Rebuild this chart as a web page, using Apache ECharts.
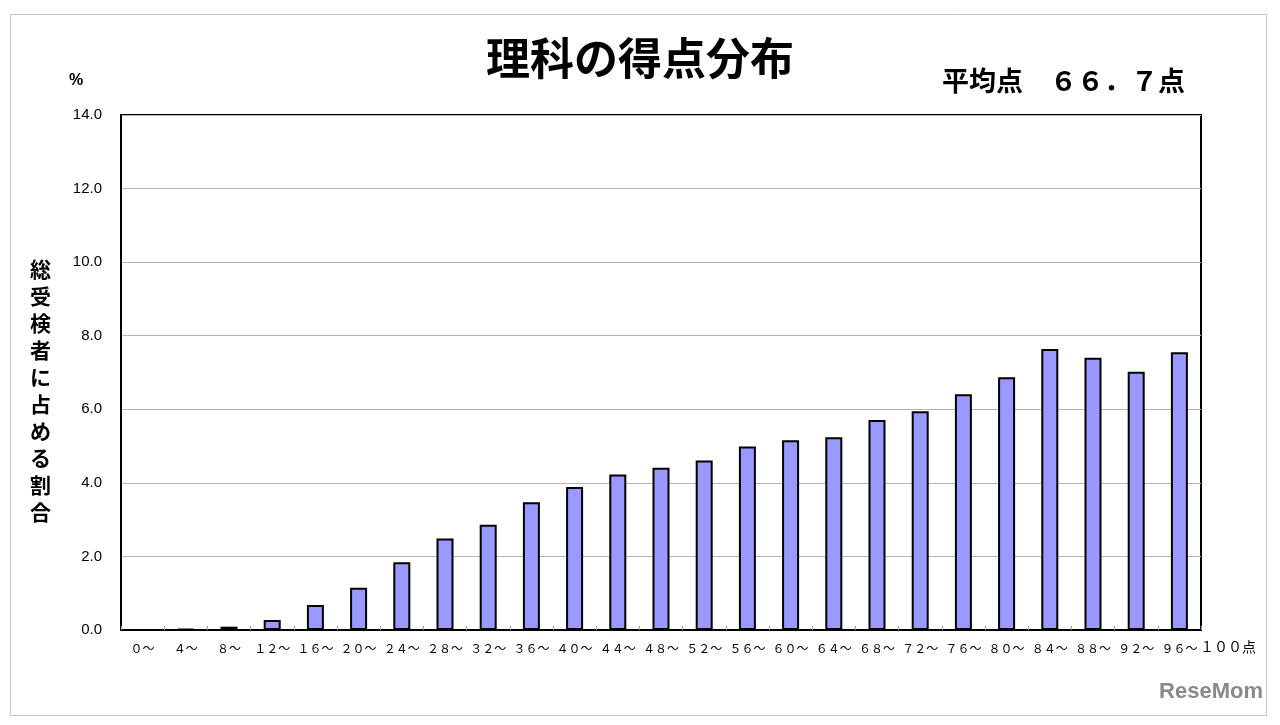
<!DOCTYPE html>
<html>
<head>
<meta charset="utf-8">
<script src="https://cdn.jsdelivr.net/npm/echarts@6/dist/echarts.min.js"></script>
<style>
  html, body { margin: 0; padding: 0; background: #fff; }
  #chart { width: 1280px; height: 725px; }
</style>
</head>
<body>
<div id="chart"></div>
<script>
// 得点区分（4点刻み）
const categories = ['０～', '４～', '８～', '１２～', '１６～', '２０～', '２４～', '２８～', '３２～', '３６～',
  '４０～', '４４～', '４８～', '５２～', '５６～', '６０～', '６４～', '６８～', '７２～', '７６～',
  '８０～', '８４～', '８８～', '９２～', '９６～'];

// 総受検者に占める割合（%）
const shares = [0.0, 0.03, 0.09, 0.27, 0.68, 1.15, 1.84, 2.49, 2.86, 3.47,
  3.89, 4.23, 4.41, 4.61, 4.99, 5.16, 5.24, 5.71, 5.95, 6.41,
  6.87, 7.64, 7.40, 7.02, 7.55];

const yTicks = { min: 0, max: 14, interval: 2 };
const yAxisName = '総受検者に占める割合';

const jp = '"Noto Sans CJK JP", sans-serif';

const chart = echarts.init(document.getElementById('chart'), null, { renderer: 'canvas' });

chart.setOption({
  backgroundColor: '#fff',
  animation: false,
  grid: {
    left: 121, right: 79, top: 115, bottom: 95,
    show: true, borderColor: '#000', borderWidth: 2, backgroundColor: 'transparent'
  },
  xAxis: {
    type: 'category',
    data: categories,
    axisLine: { lineStyle: { color: '#000', width: 2 } },
    axisTick: { show: true, inside: true, length: 4, lineStyle: { color: '#999' } },
    axisLabel: { color: '#000', fontFamily: jp, fontSize: 12, margin: 12, interval: 0 }
  },
  yAxis: {
    type: 'value',
    min: yTicks.min, max: yTicks.max, interval: yTicks.interval,
    axisLine: { show: true, lineStyle: { color: '#000', width: 2 } },
    axisTick: { show: false },
    splitLine: { lineStyle: { color: '#b4b4b4', width: 1 } },
    axisLabel: {
      color: '#000', fontFamily: '"Liberation Sans", Arial, sans-serif', fontSize: 15, margin: 19,
      formatter: v => v.toFixed(1)
    }
  },
  series: [{
    type: 'bar',
    data: shares,
    barWidth: 17,
    itemStyle: { color: '#9999ff', borderColor: '#000', borderWidth: 2 }
  }],
  graphic: [
    { type: 'rect', left: 8, top: 12, shape: { width: 1256, height: 701 },
      style: { fill: 'none', stroke: '#c4c4c4', lineWidth: 1 }, silent: true, z: -1 },
    { type: 'text', left: 'center', top: 36,
      style: { text: '理科の得点分布', font: 'bold 44px ' + jp, fill: '#000' } },
    { type: 'text', left: 942, top: 67,
      style: { text: '平均点　６６．７点', font: 'bold 27px ' + jp, fill: '#000' } },
    { type: 'text', left: 69, top: 73,
      style: { text: '%', font: 'bold 16px "Liberation Sans", Arial, sans-serif', fill: '#000' } },
    { type: 'text', left: 30, top: 256,
      style: { text: yAxisName.split('').join('\n'), font: 'bold 21px ' + jp, lineHeight: 27, fill: '#000' } },
    { type: 'text', left: 1200, top: 640,
      style: { text: '１００点', font: '14px ' + jp, fill: '#000' } },
    { type: 'text', right: 17, top: 681,
      style: { text: 'ReseMom', font: 'bold 22px "Liberation Sans", Arial, sans-serif', fill: '#8a8a8a' } }
  ]
});
</script>
</body>
</html>
